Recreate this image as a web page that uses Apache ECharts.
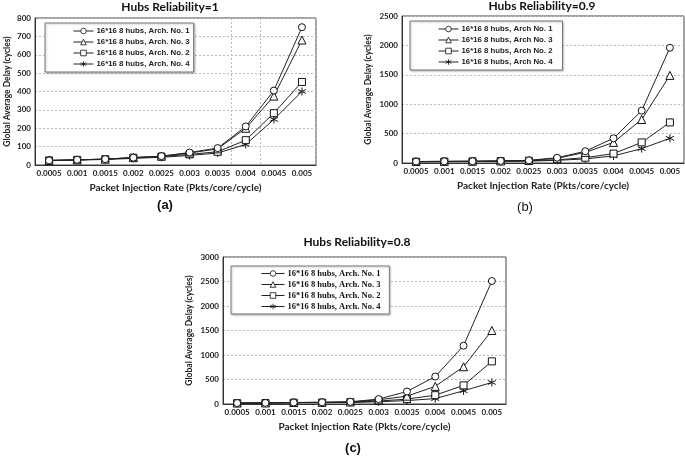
<!DOCTYPE html>
<html><head><meta charset="utf-8">
<script src="https://cdn.jsdelivr.net/npm/echarts@6/dist/echarts.min.js"></script>
<style>html,body{margin:0;padding:0;background:#fff}#c{width:685px;height:457px}</style>
</head><body><div id="c"></div>
<script>
const categories = ['0.0005','0.001','0.0015','0.002','0.0025','0.003','0.0035','0.004','0.0045','0.005'];

// (a) Hubs Reliability = 1
const a_arch1 = [25, 28, 32, 40, 48, 68, 92, 210, 405, 750];
const a_arch3 = [25, 28, 32, 40, 48, 65, 88, 200, 375, 680];
const a_arch2 = [25, 28, 32, 40, 46, 58, 72, 135, 282, 452];
const a_arch4 = [23, 27, 30, 36, 42, 52, 65, 112, 248, 400];

// (b) Hubs Reliability = 0.9
const b_arch1 = [25, 28, 30, 35, 45, 90, 200, 420, 890, 1960];
const b_arch3 = [25, 28, 30, 35, 42, 80, 180, 350, 740, 1490];
const b_arch2 = [22, 25, 28, 32, 38, 55, 90, 160, 350, 690];
const b_arch4 = [20, 22, 25, 28, 32, 45, 70, 120, 245, 420];

// (c) Hubs Reliability = 0.8
const c_arch1 = [20, 22, 30, 35, 45, 100, 255, 560, 1190, 2510];
const c_arch3 = [20, 22, 30, 35, 42, 85, 160, 360, 760, 1500];
const c_arch2 = [18, 20, 28, 30, 38, 60, 100, 180, 380, 870];
const c_arch4 = [15, 18, 25, 28, 30, 45, 70, 110, 270, 440];

const namesAC = ['16*16 8 hubs, Arch. No. 1','16*16 8 hubs, Arch. No. 3','16*16 8 hubs, Arch. No. 2','16*16 8 hubs, Arch. No. 4'];
const namesB  = ['16*16 8 hubs, Arch No. 1','16*16 8 hubs, Arch No. 3','16*16 8 hubs, Arch No. 2','16*16 8 hubs, Arch No. 4'];
const titles = ['Hubs Reliability=1','Hubs Reliability=0.9','Hubs Reliability=0.8'];
const yMax = [800, 2500, 3000];
const yStep = [100, 500, 500];
const xName = 'Packet Injection Rate (Pkts/core/cycle)';
const yName = 'Global Average Delay (cycles)';

const star = 'path://M5,0L5,10M0.67,2.5L9.33,7.5M0.67,7.5L9.33,2.5';
const symbols = ['circle','triangle','rect', star];
const symSizes = [7, 8, 7, 8];

const grids = [
  {left: 35, top: 18, width: 281, height: 147},
  {left: 402, top: 16, width: 282, height: 147},
  {left: 223, top: 257, width: 283, height: 147}
];
const labelFont = 'Lato';

const datasets = [
  [a_arch1, a_arch3, a_arch2, a_arch4],
  [b_arch1, b_arch3, b_arch2, b_arch4],
  [c_arch1, c_arch3, c_arch2, c_arch4]
];
const nameSets = [namesAC, namesB, namesAC];

const series = [];
datasets.forEach((ds, g) => {
  ds.forEach((vals, k) => {
    series.push({
      type: 'line', name: nameSets[g][k], xAxisIndex: g, yAxisIndex: g,
      data: vals, symbol: symbols[k], symbolSize: symSizes[k],
      lineStyle: {color: '#222', width: 1},
      itemStyle: {color: '#fff', borderColor: '#111', borderWidth: 1},
      emphasis: {disabled: true}, animation: false, z: 5 - k
    });
  });
});

const xAxes = grids.map((gr, g) => ({
  type: 'category', gridIndex: g, data: categories, boundaryGap: true,
  axisLine: {show: true, lineStyle: {color: '#333', width: 1}},
  axisTick: {show: false},
  axisLabel: {interval: 0, margin: 4, fontFamily: labelFont, fontWeight: 'bold', fontSize: 8, color: '#222'},
  splitLine: {show: g === 0, interval: (i) => i === 7 || i === 8, lineStyle: {color: '#bbb', type: [2, 2], width: 1}},
  name: xName, nameLocation: 'middle', nameGap: 18,
  nameTextStyle: {fontFamily: labelFont, fontWeight: 'bold', fontSize: 10, color: '#222'}
}));

const yAxes = grids.map((gr, g) => ({
  type: 'value', gridIndex: g, min: 0, max: yMax[g], interval: yStep[g],
  axisLine: {show: true, lineStyle: {color: '#333', width: 1}},
  axisTick: {show: false},
  axisLabel: {margin: 4, fontFamily: labelFont, fontWeight: 'bold', fontSize: 8, color: '#222', formatter: (v) => String(v)},
  splitLine: {show: true, lineStyle: {color: '#bbb', type: [2, 2], width: 1}},
  name: yName, nameLocation: 'middle', nameGap: g === 0 ? 23 : 29, nameRotate: 90,
  nameTextStyle: {fontFamily: labelFont, fontWeight: 'bold', fontSize: 8.5, color: '#222'}
}));

const legendBase = {
  orient: 'vertical', align: 'left', itemWidth: 20, itemHeight: 7, itemGap: 3,
  borderColor: '#777', borderWidth: 1, backgroundColor: '#fff',
  shadowColor: 'rgba(0,0,0,0.25)', shadowBlur: 2, shadowOffsetX: 1, shadowOffsetY: 1,
  selectedMode: false, z: 10,
  itemStyle: {color: '#fff', borderColor: '#111', borderWidth: 0.8},
  lineStyle: {color: '#222', width: 1}
};
const legends = [
  Object.assign({}, legendBase, {left: 45, top: 23, padding: [4, 4, 4, 28], data: namesAC,
    textStyle: {fontFamily: 'Liberation Sans', fontWeight: 'bold', fontSize: 7.8, color: '#222', lineHeight: 8, padding: [0,0,0,-2]}}),
  Object.assign({}, legendBase, {left: 410, top: 21, padding: [4, 10, 4, 28], data: namesB,
    textStyle: {fontFamily: 'Liberation Sans', fontWeight: 'bold', fontSize: 7.8, color: '#222', lineHeight: 8, padding: [0,0,0,-2]}}),
  Object.assign({}, legendBase, {left: 231, top: 266, padding: [3, 9, 3, 30], itemWidth: 23, itemGap: 2, data: namesAC,
    textStyle: {fontFamily: 'Liberation Serif', fontWeight: 'bold', fontSize: 8.5, color: '#111', lineHeight: 9, padding: [0,0,0,-2]}})
];

const titleCenters = [[170, 1], [542, 0], [357, 236]];
const titleArr = titles.map((t, i) => ({
  text: t, left: titleCenters[i][0], top: titleCenters[i][1], textAlign: 'center', padding: 0,
  textStyle: {fontFamily: labelFont, fontWeight: 'bold', fontSize: 12, color: '#111'}
}));
const subLabels = [['(a)', 165, 199, 'bold', 'Liberation Sans'], ['(b)', 525, 201, 'normal', 'Liberation Sans'], ['(c)', 353, 442, 'bold', 'Liberation Sans']];
subLabels.forEach(s => titleArr.push({
  text: s[0], left: s[1], top: s[2], textAlign: 'center', padding: 0,
  textStyle: {fontFamily: s[4], fontWeight: s[3], fontSize: 13, color: '#111'}
}));

const chart = echarts.init(document.getElementById('c'), null, {renderer: 'canvas'});
chart.setOption({
  animation: false,
  backgroundColor: '#fff',
  title: titleArr,
  grid: grids.map(g => Object.assign({show: true, borderColor: '#444', borderWidth: 1, backgroundColor: 'transparent', containLabel: false}, g)),
  xAxis: xAxes,
  yAxis: yAxes,
  legend: legends,
  series: series
});
</script>
</body></html>
